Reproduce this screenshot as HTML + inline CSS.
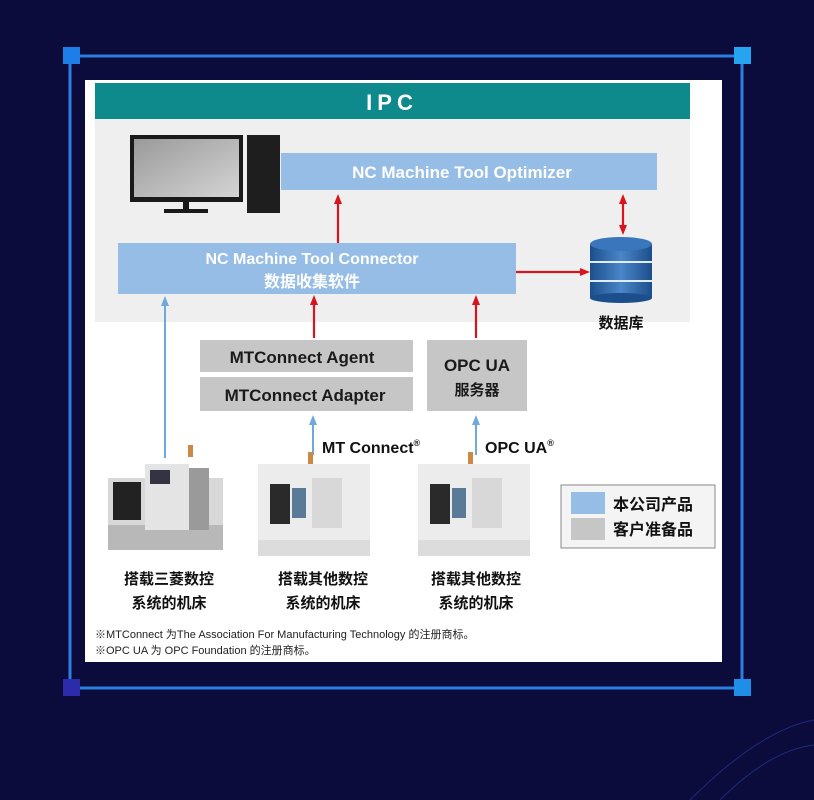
<!DOCTYPE html>
<html><head><meta charset="utf-8"><style>
html,body{margin:0;padding:0;background:#0b0b3c;}
svg{display:block;}
text{font-family:"Liberation Sans","Noto Sans CJK SC",sans-serif;}
</style></head><body>
<svg width="814" height="800" viewBox="0 0 814 800" xmlns="http://www.w3.org/2000/svg">
<defs>
<marker id="r" markerUnits="userSpaceOnUse" markerWidth="10" markerHeight="10" refX="5" refY="5" orient="auto"><path d="M0,1 L10,5 L0,9 z" fill="#d8141c"/></marker>
<marker id="b" markerUnits="userSpaceOnUse" markerWidth="10" markerHeight="10" refX="5" refY="5" orient="auto"><path d="M0,1 L10,5 L0,9 z" fill="#6fa8dc"/></marker>
<linearGradient id="db" x1="0" x2="1"><stop offset="0" stop-color="#1c4e8c"/><stop offset="0.5" stop-color="#4a86c8"/><stop offset="1" stop-color="#1c4e8c"/></linearGradient>
<linearGradient id="scr" x1="0" y1="0" x2="1" y2="1"><stop offset="0" stop-color="#9a9a9a"/><stop offset="1" stop-color="#d4d4d4"/></linearGradient>
</defs>
<rect width="814" height="800" fill="#0b0b3c"/>
<path d="M690,800 Q760,730 814,720" stroke="#1d2a80" fill="none"/>
<path d="M720,800 Q770,750 814,745" stroke="#1d2a80" fill="none"/>
<rect x="70" y="56" width="672" height="632" fill="none" stroke="#2a7fe0" stroke-width="3"/>
<rect x="63" y="47" width="17" height="17" fill="#1e7ee8"/>
<rect x="734" y="47" width="17" height="17" fill="#27a4f0"/>
<rect x="63" y="679" width="17" height="17" fill="#2c2caa"/>
<rect x="734" y="679" width="17" height="17" fill="#1e8ee8"/>
<rect x="85" y="80" width="637" height="582" fill="#fff"/>
<rect x="95" y="119" width="595" height="203" fill="#efefef"/>
<rect x="95" y="83" width="595" height="36" fill="#0e8a8c"/>
<text x="392" y="110" fill="#fff" font-size="22" font-weight="bold" text-anchor="middle" letter-spacing="5">IPC</text>
<rect x="130" y="135" width="113" height="67" fill="#1a1a1a"/>
<rect x="134" y="139" width="105" height="58" fill="url(#scr)"/>
<rect x="183" y="202" width="6" height="8" fill="#1a1a1a"/>
<rect x="164" y="209" width="44" height="4" fill="#1a1a1a"/>
<rect x="247" y="135" width="33" height="78" fill="#1e1e1e"/>
<rect x="281" y="153" width="376" height="37" fill="#95bde6"/>
<text x="462" y="178" fill="#fff" font-size="17" font-weight="bold" text-anchor="middle">NC Machine Tool Optimizer</text>
<rect x="118" y="243" width="398" height="51" fill="#95bde6"/>
<text x="312" y="264" fill="#fff" font-size="16" font-weight="bold" text-anchor="middle">NC Machine Tool Connector</text>
<text x="312" y="287" fill="#fff" font-size="16" font-weight="bold" text-anchor="middle">数据收集软件</text>
<rect x="590" y="244" width="62" height="54" fill="url(#db)"/>
<ellipse cx="621" cy="298" rx="31" ry="5" fill="#1c4e8c"/>
<line x1="590" y1="262" x2="652" y2="262" stroke="#e0ecf8" stroke-width="2"/>
<line x1="590" y1="281" x2="652" y2="281" stroke="#e0ecf8" stroke-width="2"/>
<ellipse cx="621" cy="244" rx="31" ry="7" fill="#3a76bc"/>
<text x="621" y="328" fill="#111" font-size="15" font-weight="bold" text-anchor="middle">数据库</text>
<g stroke="#d8141c" stroke-width="2.2" fill="none">
<line x1="338" y1="243" x2="338" y2="199" marker-end="url(#r)"/>
<line x1="623" y1="215" x2="623" y2="230" marker-end="url(#r)"/>
<line x1="623" y1="215" x2="623" y2="199" marker-end="url(#r)"/>
<line x1="516" y1="272" x2="585" y2="272" marker-end="url(#r)"/>
<line x1="314" y1="338" x2="314" y2="300" marker-end="url(#r)"/>
<line x1="476" y1="338" x2="476" y2="300" marker-end="url(#r)"/>
</g>
<g stroke="#6fa8dc" stroke-width="2" fill="none">
<line x1="165" y1="458" x2="165" y2="301" marker-end="url(#b)"/>
<line x1="313" y1="455" x2="313" y2="420" marker-end="url(#b)"/>
<line x1="476" y1="455" x2="476" y2="420" marker-end="url(#b)"/>
</g>
<rect x="200" y="340" width="213" height="32" fill="#c6c6c6"/>
<text x="302" y="363" fill="#1a1a1a" font-size="17" font-weight="bold" text-anchor="middle">MTConnect Agent</text>
<rect x="200" y="377" width="213" height="34" fill="#c6c6c6"/>
<text x="305" y="401" fill="#1a1a1a" font-size="17" font-weight="bold" text-anchor="middle">MTConnect Adapter</text>
<rect x="427" y="340" width="100" height="71" fill="#c6c6c6"/>
<text x="477" y="371" fill="#1a1a1a" font-size="17" font-weight="bold" text-anchor="middle">OPC UA</text>
<text x="477" y="395" fill="#1a1a1a" font-size="15" font-weight="bold" text-anchor="middle">服务器</text>
<text x="322" y="453" fill="#111" font-size="16" font-weight="bold">MT Connect<tspan font-size="9" dy="-7">®</tspan></text>
<text x="485" y="453" fill="#111" font-size="16" font-weight="bold">OPC UA<tspan font-size="9" dy="-7">®</tspan></text>
<rect x="108" y="478" width="115" height="62" fill="#d8d8d8"/>
<rect x="108" y="525" width="115" height="25" fill="#b8b8b8"/>
<rect x="113" y="482" width="28" height="38" fill="#222"/>
<rect x="145" y="464" width="44" height="66" fill="#e4e4e4"/>
<rect x="189" y="468" width="20" height="62" fill="#9a9a9a"/>
<rect x="150" y="470" width="20" height="14" fill="#334"/>
<rect x="188" y="445" width="5" height="12" fill="#c84"/>
<g id="m2">
<rect x="258" y="464" width="112" height="92" fill="#ececec"/>
<rect x="258" y="540" width="112" height="16" fill="#dcdcdc"/>
<rect x="270" y="484" width="20" height="40" fill="#2a2a2a"/>
<rect x="292" y="488" width="14" height="30" fill="#5a7a98"/>
<rect x="312" y="478" width="30" height="50" fill="#d8d8d8"/>
<rect x="308" y="452" width="5" height="12" fill="#c84"/>
</g>
<use href="#m2" transform="translate(160,0)"/>
<rect x="561" y="485" width="154" height="63" fill="#f4f4f4" stroke="#888" stroke-width="1"/>
<rect x="571" y="492" width="34" height="22" fill="#95bde6"/>
<rect x="571" y="518" width="34" height="22" fill="#c6c6c6"/>
<text x="613" y="510" fill="#111" font-size="16" font-weight="bold">本公司产品</text>
<text x="613" y="535" fill="#111" font-size="16" font-weight="bold">客户准备品</text>
<g fill="#111" font-size="15" font-weight="bold" text-anchor="middle">
<text x="169" y="584">搭载三菱数控</text><text x="169" y="608">系统的机床</text>
<text x="323" y="584">搭载其他数控</text><text x="323" y="608">系统的机床</text>
<text x="476" y="584">搭载其他数控</text><text x="476" y="608">系统的机床</text>
</g>
<text x="95" y="638" fill="#222" font-size="11">※MTConnect 为The Association For Manufacturing Technology 的注册商标。</text>
<text x="95" y="654" fill="#222" font-size="11">※OPC UA 为 OPC Foundation 的注册商标。</text>
</svg>
</body></html>
